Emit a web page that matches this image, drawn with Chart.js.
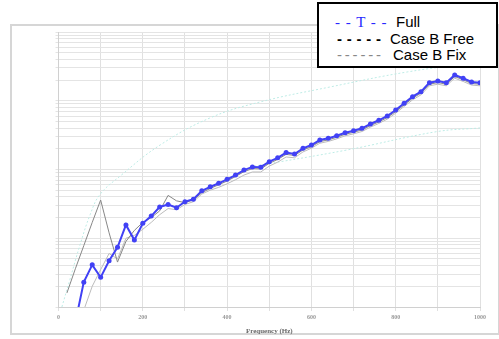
<!DOCTYPE html>
<html>
<head>
<meta charset="utf-8">
<script src="https://cdn.jsdelivr.net/npm/chart.js@4"></script>
<style>
  html, body { margin: 0; padding: 0; background: #fff; }
  #wrap { position: relative; width: 499px; height: 339px; }
  #legend {
    position: absolute; left: 317px; top: 2px; width: 177px; height: 62px;
    border: 2px solid #000; background: #fff;
    font-family: "Liberation Sans", Arial, sans-serif; font-size: 15px; line-height: 16.5px;
  }
  #legend .row { position: absolute; white-space: pre; }
  #legend .sym { position: absolute; white-space: pre; }
</style>
</head>
<body>
<div id="wrap">
  <canvas id="chart" width="499" height="339"></canvas>
  <div id="legend"></div>
</div>
<script>
// frequency axis (Hz), one point every 20 Hz
const freqs = [20, 40, 60, 80, 100, 120, 140, 160, 180, 200, 220, 240, 260, 280, 300, 320, 340, 360, 380, 400,
  420, 440, 460, 480, 500, 520, 540, 560, 580, 600, 620, 640, 660, 680, 700, 720, 740, 760, 780, 800,
  820, 840, 860, 880, 900, 920, 940, 960, 980, 1000];

const fullValues = [0.3, 0.6, 2.3, 4.1, 2.7, 4.7, 7.4, 15.6, 9.4, 16.5, 21, 28.5, 31, 27.8, 34, 37, 49, 56, 63, 72,
  83, 98, 109, 108, 130, 148, 176, 168, 203, 227, 268, 284, 310, 343, 367, 397, 459, 520, 600, 733,
  918, 1146, 1355, 1832, 1937, 1832, 2370, 2124, 1874, 1832];

const freeValues = [1.6, 3.6, 7.8, 17, 36, 12, 4.5, 9, 13, 17, 20, 25, 42, 35, 33, 36, 46, 53, 60, 68,
  79, 93, 103, 102, 123, 140, 166, 160, 192, 215, 254, 270, 294, 325, 348, 376, 435, 493, 570, 695,
  870, 1090, 1290, 1740, 1840, 1740, 2250, 2020, 1780, 1740];

const fixValues = [0.5, 0.8, 0.9, 2, 3.5, 6, 5, 10, 11, 13.5, 17, 22, 27, 26, 31, 34, 44, 50, 55, 62,
  71, 83, 92, 92, 112, 128, 152, 148, 180, 204, 241, 256, 279, 309, 330, 357, 413, 468, 540, 660,
  826, 1030, 1220, 1650, 1740, 1650, 2130, 1910, 1690, 1650];

// faint reference curves
const upperFreqs = [8, 27, 51, 75, 98, 146, 241, 359, 478, 644, 827, 1000];
const upperValues = [1, 2.5, 8, 22, 43, 80, 227, 561, 959, 1585, 2620, 3660];
const lowerFreqs = [454, 684, 897, 1000];
const lowerValues = [109, 192, 355, 402];

const xTicks = [0, 200, 400, 600, 800, 1000];

const toPts = (xs, ys) => xs.map((x, i) => ({ x: x, y: ys[i] }));

const framePlugin = {
  id: 'frame',
  beforeDraw(chart) {
    const ctx = chart.ctx;
    ctx.save();
    ctx.strokeStyle = '#d6d6d6';
    ctx.lineWidth = 2;
    ctx.strokeRect(11, 25, 488, 309);
    ctx.restore();
  }
};

const chart = new Chart(document.getElementById('chart'), {
  type: 'line',
  data: {
    datasets: [
      {
        label: 'Full',
        data: toPts(freqs, fullValues),
        borderColor: 'rgb(65, 65, 245)',
        backgroundColor: 'rgb(65, 65, 245)',
        borderWidth: 2,
        pointRadius: 2.5,
        pointBorderWidth: 0,
        legendSym: '- - T - -',
        symColor: 'rgb(40, 40, 255)',
        symFont: '"Liberation Serif", "Times New Roman", serif',
        symSpacing: '1px'
      },
      {
        label: 'Case B Free',
        data: toPts(freqs, freeValues),
        borderColor: 'rgb(135, 135, 135)',
        borderWidth: 1,
        pointRadius: 0,
        legendSym: '- - - - -',
        symColor: '#000',
        symWeight: 'bold',
        symSpacing: '0.3px'
      },
      {
        label: 'Case B Fix',
        data: toPts(freqs, fixValues),
        borderColor: 'rgb(188, 188, 188)',
        borderWidth: 1,
        pointRadius: 0,
        legendSym: '------',
        symColor: '#888',
        symSpacing: '2.8px'
      },
      {
        label: 'upper',
        data: toPts(upperFreqs, upperValues),
        borderColor: 'rgb(190, 236, 230)',
        borderWidth: 1,
        borderDash: [2, 2],
        pointRadius: 0,
        tension: 0.4
      },
      {
        label: 'lower',
        data: toPts(lowerFreqs, lowerValues),
        borderColor: 'rgb(190, 236, 230)',
        borderWidth: 1,
        borderDash: [2, 2],
        pointRadius: 0,
        tension: 0.4
      }
    ]
  },
  options: {
    responsive: false,
    animation: false,
    layout: { padding: { left: 10, right: 19, top: 32, bottom: 4 } },
    plugins: {
      legend: { display: false },
      tooltip: { enabled: false }
    },
    scales: {
      x: {
        type: 'linear',
        min: 0,
        max: 1000,
        afterFit(s) { s.height = 28; },
        ticks: {
          stepSize: 100,
          autoSkip: false,
          maxRotation: 0,
          padding: 3,
          color: '#999',
          font: { size: 6, weight: 'bold', family: '"Liberation Serif", serif' },
          callback: v => xTicks.includes(v) ? String(v) : ''
        },
        grid: { color: '#e0e0e0', lineWidth: 1, tickLength: 4 },
        border: { color: '#d0d0d0' },
        title: {
          display: true,
          text: 'Frequency (Hz)',
          color: '#666',
          padding: { top: 0, bottom: 0 },
          font: { size: 7, weight: 'bold', family: '"Liberation Serif", serif' }
        }
      },
      y: {
        type: 'logarithmic',
        min: 1,
        max: 10000,
        afterFit(s) { s.width = 48.5; },
        afterBuildTicks(s) {
          const t = [];
          for (let d = 1; d < 10000; d *= 10) {
            for (let m = 1; m < 10; m++) t.push({ value: m * d });
          }
          t.push({ value: 10000 });
          s.ticks = t;
        },
        ticks: { display: false, autoSkip: false },
        grid: { color: '#e4e4e4', lineWidth: 1, tickLength: 3 },
        border: { color: '#d0d0d0' }
      }
    }
  },
  plugins: [framePlugin]
});

// legend built from the datasets
const legend = document.getElementById('legend');
chart.data.datasets.slice(0, 3).forEach((ds, i) => {
  const top = 10 + i * 16.5;
  const sym = document.createElement('span');
  sym.className = 'sym';
  sym.textContent = ds.legendSym;
  sym.style.top = top + 'px';
  sym.style.left = (i === 0 ? 16 : 18) + 'px';
  sym.style.color = ds.symColor;
  sym.style.letterSpacing = ds.symSpacing;
  if (ds.symFont) sym.style.fontFamily = ds.symFont;
  if (ds.symWeight) sym.style.fontWeight = ds.symWeight;
  legend.appendChild(sym);
  const txt = document.createElement('span');
  txt.className = 'row';
  txt.textContent = ds.label;
  txt.style.top = top + 'px';
  txt.style.left = [77, 71, 74][i] + 'px';
  legend.appendChild(txt);
});
</script>
</body>
</html>
